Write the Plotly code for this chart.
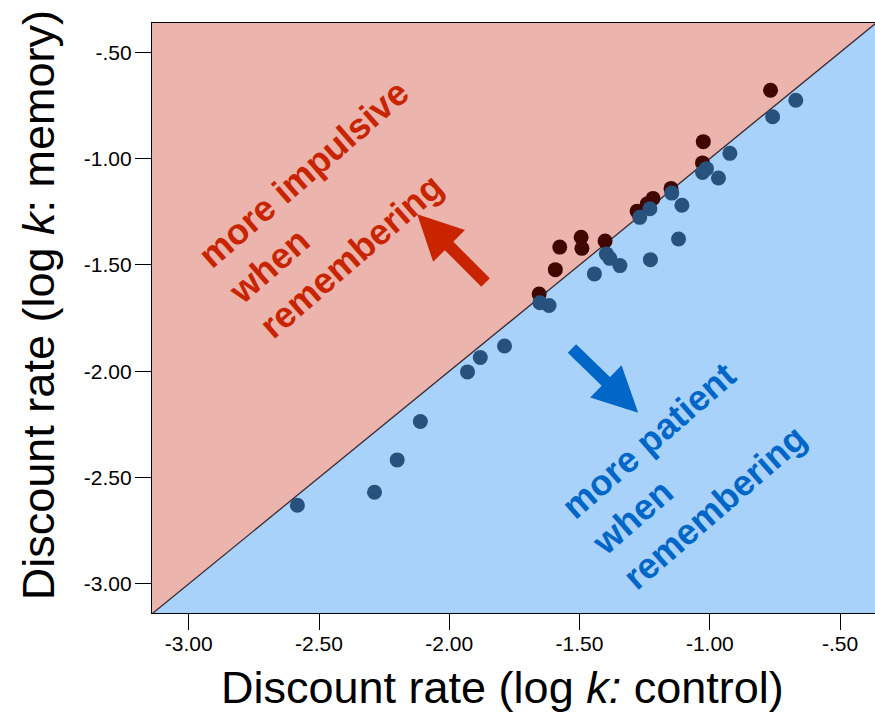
import plotly.graph_objects as go

# Log discount rates per participant: control condition (x) vs memory condition (y)
control_more_impulsive = [-1.655, -1.593, -1.576, -1.494, -1.491, -1.402, -1.279,
                          -1.240, -1.218, -1.149, -1.028, -1.025, -0.767]
memory_more_impulsive = [-1.637, -1.522, -1.416, -1.370, -1.422, -1.387, -1.247,
                         -1.212, -1.187, -1.140, -1.020, -0.920, -0.678]

control_more_patient = [-2.583, -2.287, -2.200, -2.111, -1.930, -1.881, -1.788,
                        -1.652, -1.617, -1.443, -1.397, -1.384, -1.345, -1.269,
                        -1.228, -1.230, -1.146, -1.107, -1.120, -1.028, -1.013,
                        -0.967, -0.923, -0.759, -0.670]
memory_more_patient = [-2.630, -2.569, -2.417, -2.236, -2.003, -1.935, -1.881,
                       -1.678, -1.691, -1.542, -1.448, -1.469, -1.503, -1.276,
                       -1.475, -1.236, -1.162, -1.219, -1.378, -1.065, -1.047,
                       -1.091, -0.975, -0.803, -0.725]

tick_values = [-3.0, -2.5, -2.0, -1.5, -1.0, -0.5]
tick_labels = ["-3.00", "-2.50", "-2.00", "-1.50", "-1.00", "-.50"]

x_range = [-3.141, -0.366]
y_range = [-3.137, -0.362]

PINK = "#EBB4AC"
BLUE_BG = "#A9D2FA"
RED_DOT = "#3E0800"
BLUE_DOT = "#27527E"
RED_TXT = "#C82400"
BLUE_TXT = "#0066C8"
FONT = "Liberation Sans, Arial, Helvetica, sans-serif"

# extent of the identity line (clipped by the axes)
lo, hi = -3.5, 0.0

fig = go.Figure()

# upper-left half: memory rate above control rate
fig.add_trace(go.Scatter(
    x=[lo, lo, hi, lo], y=[lo, hi, hi, lo], fill="toself",
    fillcolor=PINK, line=dict(width=0), mode="lines",
    hoverinfo="skip", showlegend=False))

# identity line
fig.add_trace(go.Scatter(
    x=[lo, hi], y=[lo, hi], mode="lines",
    line=dict(color="#3B2A33", width=1.3),
    hoverinfo="skip", showlegend=False))

fig.add_trace(go.Scatter(
    x=control_more_impulsive, y=memory_more_impulsive, mode="markers",
    marker=dict(color=RED_DOT, size=15, line=dict(width=0)),
    showlegend=False))

fig.add_trace(go.Scatter(
    x=control_more_patient, y=memory_more_patient, mode="markers",
    marker=dict(color=BLUE_DOT, size=15, line=dict(width=0)),
    showlegend=False))

axis_common = dict(
    tickvals=tick_values, ticktext=tick_labels,
    ticks="outside", ticklen=16, tickwidth=1.3, tickcolor="black",
    showline=True, linecolor="black", linewidth=1.3,
    showgrid=False, zeroline=False,
    tickfont=dict(family=FONT, size=21, color="black"),
)

fig.update_xaxes(range=x_range, mirror=True, ticklabelstandoff=-4, **axis_common)
fig.update_yaxes(range=y_range, ticklabelstandoff=-1, **axis_common)

annotations = [
    # axis titles
    dict(text="Discount rate (log <i>k:</i> control)", xref="paper", yref="paper",
         x=0.485, y=-0.127, xanchor="center", yanchor="middle", showarrow=False,
         font=dict(family=FONT, size=45, color="black")),
    dict(text="Discount rate (log <i>k</i>: memory)", xref="paper", yref="paper",
         x=-0.157, y=0.5225, xanchor="center", yanchor="middle", textangle=-90,
         showarrow=False, font=dict(family=FONT, size=45, color="black")),
    # region labels
    dict(text="<b>more impulsive<br>when<br>remembering</b>", xref="x", yref="y",
         x=-2.444, y=-1.237, xanchor="center", yanchor="middle", align="left",
         textangle=-41, showarrow=False,
         font=dict(family=FONT, size=36, color=RED_TXT)),
    dict(text="<b>more patient<br>when<br>remembering</b>", xref="x", yref="y",
         x=-1.101, y=-2.475, xanchor="center", yanchor="middle", align="left",
         textangle=-41, showarrow=False,
         font=dict(family=FONT, size=36, color=BLUE_TXT)),
    # arrows
    dict(x=-2.123, y=-1.261, ax=-1.855, ay=-1.589, xref="x", yref="y",
         axref="x", ayref="y", text="", showarrow=True, arrowhead=2,
         arrowsize=0.75, arrowwidth=12, arrowcolor=RED_TXT),
    dict(x=-1.275, y=-2.195, ax=-1.535, ay=-1.886, xref="x", yref="y",
         axref="x", ayref="y", text="", showarrow=True, arrowhead=2,
         arrowsize=0.75, arrowwidth=12, arrowcolor=BLUE_TXT),
]

fig.update_layout(
    width=875, height=712,
    margin=dict(l=152, r=0, t=23, b=99),
    plot_bgcolor=BLUE_BG, paper_bgcolor="white",
    annotations=annotations,
    font=dict(family=FONT),
)

fig.write_html("out.html")
